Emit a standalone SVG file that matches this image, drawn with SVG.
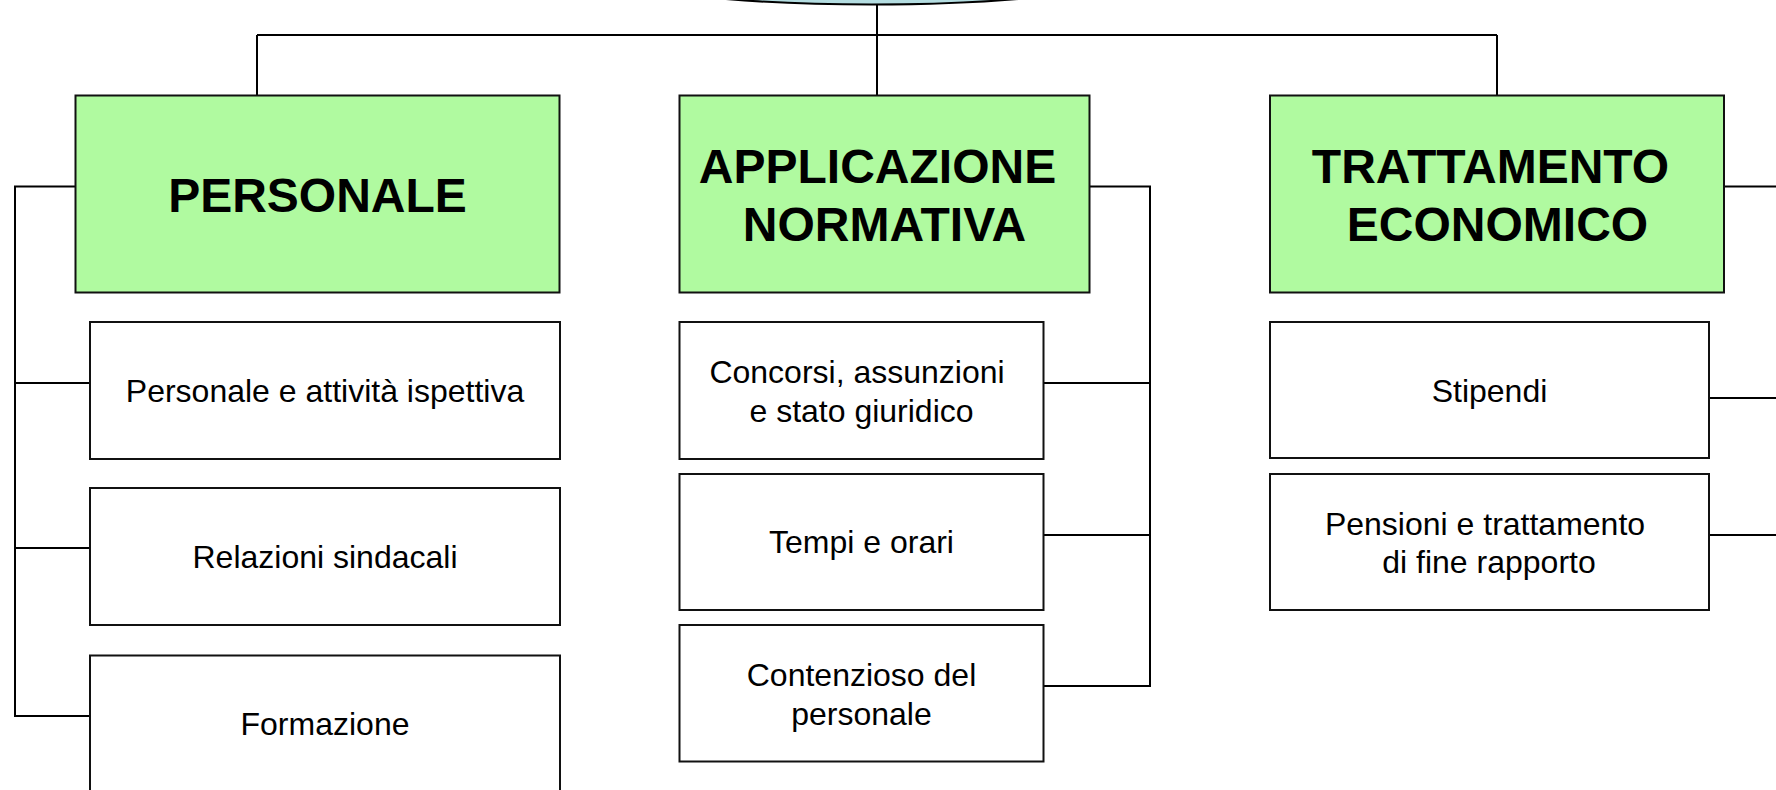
<svg xmlns="http://www.w3.org/2000/svg" width="1776" height="790" viewBox="0 0 1776 790">
<style>
.hdr{fill:#b0faa0;stroke:#111;stroke-width:2}
.sub{fill:#fff;stroke:#111;stroke-width:2}
.ht{font-family:"Liberation Sans",Arial,sans-serif;font-weight:bold;font-size:48px;fill:#000;text-anchor:middle}
.st{font-family:"Liberation Sans",Arial,sans-serif;font-size:32px;fill:#000;text-anchor:middle}
.conn{fill:none;stroke:#000;stroke-width:2}
</style>
<rect width="1776" height="790" fill="#fff"/>
<g id="root">
<ellipse cx="872" cy="-40" rx="300" ry="44.5" fill="#b4dde1" stroke="#000" stroke-width="2"/>
</g>
<g id="connectors" class="conn">
<path d="M877,5 V95"/>
<path d="M257,35 H1497 M257,35 V95 M1497,35 V95"/>
<path d="M75,186.5 H15 V716 H90 M15,383 H90 M15,548 H90"/>
<path d="M1089.5,186.5 H1150 V686 H1044 M1044,383 H1150 M1044,535 H1150"/>
<path d="M1724,186.5 H1780 M1709,398 H1780 M1709,535 H1780"/>
</g>
<g id="personale">
<rect class="hdr" x="75.5" y="95.5" width="484" height="197"/>
<text class="ht" x="317.5" y="211.5">PERSONALE</text>
</g>
<g id="personale-attivita">
<rect class="sub" x="90" y="322" width="470" height="137"/>
<text class="st" x="325" y="402">Personale e attività ispettiva</text>
</g>
<g id="relazioni-sindacali">
<rect class="sub" x="90" y="488" width="470" height="137"/>
<text class="st" x="325" y="568">Relazioni sindacali</text>
</g>
<g id="formazione">
<rect class="sub" x="90" y="655.5" width="470" height="137"/>
<text class="st" x="325" y="735">Formazione</text>
</g>
<g id="applicazione">
<rect class="hdr" x="679.5" y="95.5" width="410" height="197"/>
<text class="ht" x="877.5" y="182.5">APPLICAZIONE</text>
<text class="ht" x="884.5" y="240.5">NORMATIVA</text>
</g>
<g id="concorsi">
<rect class="sub" x="679.5" y="322" width="364" height="137"/>
<text class="st" x="857" y="383">Concorsi, assunzioni</text>
<text class="st" x="861.5" y="421.5">e stato giuridico</text>
</g>
<g id="tempi">
<rect class="sub" x="679.5" y="474" width="364" height="136"/>
<text class="st" x="861.5" y="553">Tempi e orari</text>
</g>
<g id="contenzioso">
<rect class="sub" x="679.5" y="625" width="364" height="136.5"/>
<text class="st" x="861.5" y="686">Contenzioso del</text>
<text class="st" x="861.5" y="724.5">personale</text>
</g>
<g id="trattamento">
<rect class="hdr" x="1270" y="95.5" width="454" height="197"/>
<text class="ht" x="1490.5" y="182.5">TRATTAMENTO</text>
<text class="ht" x="1497.5" y="240.5">ECONOMICO</text>
</g>
<g id="stipendi">
<rect class="sub" x="1270" y="322" width="439" height="136"/>
<text class="st" x="1489.5" y="401.5">Stipendi</text>
</g>
<g id="pensioni">
<rect class="sub" x="1270" y="474" width="439" height="136"/>
<text class="st" x="1485" y="535">Pensioni e trattamento</text>
<text class="st" x="1489" y="573">di fine rapporto</text>
</g>
</svg>
